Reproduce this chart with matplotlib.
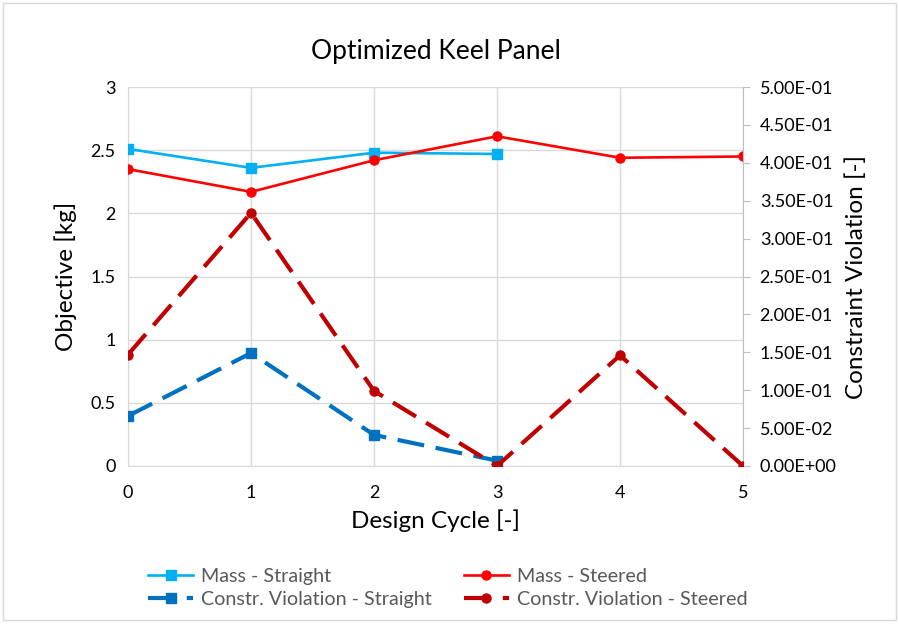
import matplotlib
matplotlib.use("Agg")
import matplotlib.pyplot as plt
from matplotlib.patches import Rectangle

plt.rcParams["font.family"] = ["Lato", "DejaVu Sans"]

# Data
cycles_straight = [0, 1, 2, 3]
cycles_steered = [0, 1, 2, 3, 4, 5]
mass_straight = [2.51, 2.36, 2.48, 2.47]
mass_steered = [2.35, 2.17, 2.42, 2.61, 2.44, 2.45]
viol_straight = [0.066, 0.149, 0.041, 0.007]
viol_steered = [0.147, 0.334, 0.099, 0.0, 0.146, 0.0]

left_ticks = [0, 0.5, 1, 1.5, 2, 2.5, 3]
left_labels = ["0", "0.5", "1", "1.5", "2", "2.5", "3"]
right_ticks = [0.0, 0.05, 0.1, 0.15, 0.2, 0.25, 0.3, 0.35, 0.4, 0.45, 0.5]
right_labels = ["0.00E+00", "5.00E-02", "1.00E-01", "1.50E-01", "2.00E-01", "2.50E-01",
                "3.00E-01", "3.50E-01", "4.00E-01", "4.50E-01", "5.00E-01"]

C_LBLUE = "#00B0F0"
C_RED = "#FF0000"
C_DBLUE = "#0070C0"
C_DRED = "#C00000"
C_GRID = "#D9D9D9"

fig = plt.figure(figsize=(8.99, 6.26), dpi=100)
fig.patches.append(Rectangle((0.003, 0.01), 0.994, 0.985, transform=fig.transFigure,
                             fill=False, edgecolor="#D9D9D9", lw=1.0))
ax = fig.add_axes([0.1424, 0.2556, 0.6841, 0.6054])
ax2 = ax.twinx()

ax.plot(cycles_straight, mass_straight, color=C_LBLUE, lw=1.9, marker="s", ms=6.5,
        label="Mass - Straight", zorder=3)
ax.plot(cycles_steered, mass_steered, color=C_RED, lw=1.9, marker="o", ms=6.5,
        label="Mass - Steered", zorder=3)
ax2.plot(cycles_straight, viol_straight, color=C_DBLUE, lw=3.0, marker="s", ms=6.5,
         dashes=(6.5, 2.8), label="Constr. Violation - Straight", zorder=3)
ax2.plot(cycles_steered, viol_steered, color=C_DRED, lw=3.0, marker="o", ms=6.5,
         dashes=(6.5, 2.8), label="Constr. Violation - Steered", zorder=3)

ax.set_xlim(0, 5)
ax.set_ylim(0, 3)
ax2.set_ylim(0, 0.5)
ax.set_xticks(range(6))
ax.set_yticks(left_ticks)
ax.set_yticklabels(left_labels)
ax2.set_yticks(right_ticks)
ax2.set_yticklabels(right_labels)

ax.grid(True, color=C_GRID, lw=1)
ax.set_axisbelow(True)
for a in (ax, ax2):
    for s in a.spines.values():
        s.set_visible(False)
ax.spines["left"].set_visible(True)
ax.spines["left"].set_color(C_GRID)
ax.spines["bottom"].set_visible(True)
ax.spines["bottom"].set_color(C_GRID)
ax2.spines["right"].set_visible(True)
ax2.spines["right"].set_color("#BFBFBF")

ax.tick_params(axis="both", length=0, labelsize=13, pad=9)
ax.tick_params(axis="x", pad=14)
ax2.tick_params(axis="y", length=5, color="#BFBFBF", labelsize=13, pad=7)

ax.set_title("Optimized Keel Panel", fontsize=19, pad=20)
ax.set_xlabel("Design Cycle [-]", fontsize=17.5, labelpad=6)
ax.set_ylabel("Objective [kg]", fontsize=17.5, labelpad=10)
ax2.set_ylabel("Constraint Violation [-]", fontsize=17.5, labelpad=6)

h1, l1 = ax.get_legend_handles_labels()
h2, l2 = ax2.get_legend_handles_labels()
handles = [h1[0], h2[0], h1[1], h2[1]]
labels = [l1[0], l2[0], l1[1], l2[1]]
fig.legend(handles, labels, ncol=2, loc="lower left", bbox_to_anchor=(0.145, 0.0),
           frameon=False, fontsize=14.2, handlelength=2.3, columnspacing=1.6,
           labelspacing=0.3, handletextpad=0.4, labelcolor="#595959")

fig.savefig("out.png", dpi=100)
